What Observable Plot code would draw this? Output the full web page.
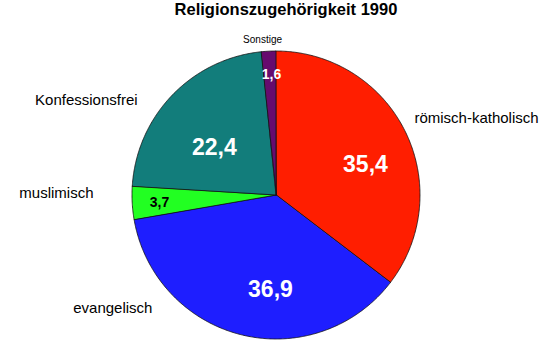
<!DOCTYPE html>
<html>
<head>
<meta charset="utf-8">
<script src="https://cdn.jsdelivr.net/npm/d3@7"></script>
<script src="https://cdn.jsdelivr.net/npm/@observablehq/plot@0.6"></script>
<style>
  html, body { margin: 0; padding: 0; background: #fff; }
  #title { height: 28px; line-height: 30px; font: bold 16.5px "Liberation Sans", Arial, sans-serif; text-align: center; padding-left: 23px; box-sizing: border-box; width: 549px; color: #000; }
</style>
</head>
<body>
<div id="title">Religionszugehörigkeit 1990</div>
<div id="chart"></div>
<script>
// ---- data ----
const categories = ["römisch-katholisch", "evangelisch", "muslimisch", "Konfessionsfrei", "Sonstige"];
const values = [35.4, 36.9, 3.7, 22.4, 1.6];
const valueLabels = ["35,4", "36,9", "3,7", "22,4", "1,6"];
const colors = ["#ff1e00", "#1e1eff", "#22ff22", "#127d7b", "#660b6e"];

// ---- layout (polar positions relative to pie: angle in degrees clockwise from top, radius in pie radii) ----
const valueLabelAngle = [70.8, 183.7, 266.6, 307.7, 357.6];
const valueLabelRadius = [0.654, 0.654, 0.814, 0.545, 0.84];
const valueLabelColor = ["#fff", "#fff", "#000", "#fff", "#fff"];
const valueLabelSize = [23, 23, 14, 23, 14];
const nameAngle = [60.8, 227.7, 270.6, 304.4, 354.9];
const nameRadius = [1.097, 1.165, 1.271, 1.169, 1.088];
const nameAnchor = ["start", "end", "end", "end", "middle"];
const nameSize = [15, 15, 15, 15, 10];

const W = 549, H = 325, CX = 276, CY = 167, R = 144;

const total = d3.sum(values);
const slices = [];
let acc = 0;
values.forEach((v, i) => {
  const a0 = acc / total * 2 * Math.PI;
  acc += v;
  const a1 = acc / total * 2 * Math.PI;
  const n = Math.max(2, Math.ceil((a1 - a0) / (Math.PI / 360)));
  for (let k = 0; k <= n; k++) {
    const a = a0 + (a1 - a0) * k / n;
    slices.push({cat: categories[i], x: Math.sin(a), y: Math.cos(a)});
  }
});

const polar = (deg, r) => ({x: r * Math.sin(deg * Math.PI / 180), y: r * Math.cos(deg * Math.PI / 180)});

const valueTexts = categories.map((c, i) => ({
  ...polar(valueLabelAngle[i], valueLabelRadius[i]),
  text: valueLabels[i], fill: valueLabelColor[i], size: valueLabelSize[i]
}));
const nameTexts = categories.map((c, i) => ({
  ...polar(nameAngle[i], nameRadius[i]), text: c, anchor: nameAnchor[i], size: nameSize[i]
}));

const font = '"Liberation Sans", Arial, sans-serif';

const marks = [
  Plot.area(slices, {x1: "x", y1: "y", x2: 0, y2: 0, z: "cat", fill: "cat", stroke: "#111", strokeWidth: 0.8, strokeLinejoin: "round"})
];
for (const t of valueTexts) {
  marks.push(Plot.text([t], {x: "x", y: "y", text: "text", fill: t.fill, fontSize: t.size, fontWeight: "bold", fontFamily: font}));
}
for (const t of nameTexts) {
  marks.push(Plot.text([t], {x: "x", y: "y", text: "text", fill: "#000", fontSize: t.size, textAnchor: t.anchor, fontFamily: font}));
}

const chart = Plot.plot({
  width: W, height: H,
  marginTop: 0, marginRight: 0, marginBottom: 0, marginLeft: 0,
  x: {domain: [-CX / R, (W - CX) / R], axis: null},
  y: {domain: [-(H - CY) / R, CY / R], axis: null},
  color: {domain: categories, range: colors},
  style: {background: "#fff", fontFamily: font, overflow: "visible"},
  marks
});
document.getElementById("chart").appendChild(chart);
</script>
</body>
</html>
